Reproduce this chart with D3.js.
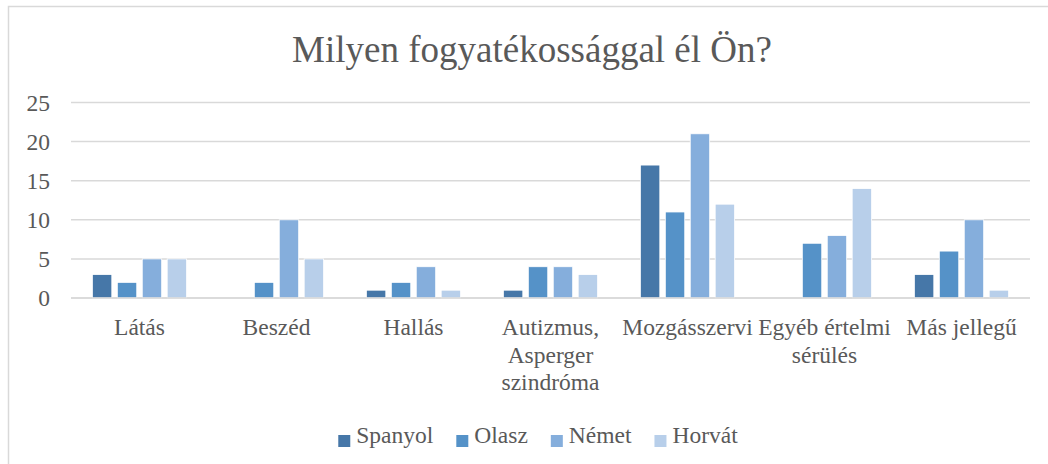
<!DOCTYPE html>
<html>
<head>
<meta charset="utf-8">
<script src="https://cdn.jsdelivr.net/npm/d3@7"></script>
<style>
  html, body { margin: 0; padding: 0; background: #fff; }
  svg { display: block; font-family: "Liberation Serif", "Times New Roman", serif; }
  svg text { font-family: "Liberation Serif", "Times New Roman", serif; }
</style>
</head>
<body>
<svg id="chart" width="1048" height="464"></svg>
<script>
const title = "Milyen fogyatékossággal él Ön?";
const categories = ["Látás", "Beszéd", "Hallás", "Autizmus, Asperger szindróma", "Mozgásszervi", "Egyéb értelmi sérülés", "Más jellegű"];
const categoryLines = [["Látás"], ["Beszéd"], ["Hallás"], ["Autizmus,", "Asperger", "szindróma"], ["Mozgásszervi"], ["Egyéb értelmi", "sérülés"], ["Más jellegű"]];
const seriesNames = ["Spanyol", "Olasz", "Német", "Horvát"];
const spanyol = [3, 0, 1, 1, 17, 0, 3];
const olasz = [2, 2, 2, 4, 11, 7, 6];
const nemet = [5, 10, 4, 4, 21, 8, 10];
const horvat = [5, 5, 1, 3, 12, 14, 1];
const yTicks = [0, 5, 10, 15, 20, 25];
const colors = ["#4677a8", "#5592c8", "#85aedc", "#b8cfea"];

const seriesValues = [spanyol, olasz, nemet, horvat];
const textColor = "#595959";
const fontSize = 23.5;
const serif = "Liberation Serif, Times New Roman, serif";

const svg = d3.select("#chart");

// outer border
svg.append("rect")
  .attr("x", 8.5).attr("y", 6.5)
  .attr("width", 1060).attr("height", 480)
  .attr("fill", "#fff")
  .attr("stroke", "#d9d9d9").attr("stroke-width", 1.5);

// title
svg.append("text")
  .attr("x", 532).attr("y", 62)
  .attr("text-anchor", "middle")
  .attr("font-family", serif)
  .attr("font-size", 37)
  .attr("fill", textColor)
  .text(title);

const plotLeft = 71, plotRight = 1030, plotTop = 102.5, plotBottom = 298;

const y = d3.scaleLinear().domain([0, 25]).range([plotBottom, plotTop]);
const x0 = d3.scaleBand().domain(categories).range([plotLeft, plotRight]).paddingInner(0.312).paddingOuter(0.156);
const x1 = d3.scaleBand().domain(seriesNames).range([0, x0.bandwidth()]).paddingInner(0.22).paddingOuter(0);

// gridlines
svg.append("g").selectAll("line")
  .data(yTicks)
  .join("line")
  .attr("x1", plotLeft).attr("x2", plotRight)
  .attr("y1", d => y(d)).attr("y2", d => y(d))
  .attr("stroke", "#d9d9d9").attr("stroke-width", 1.5);

// y axis labels
const yAxis = d3.axisLeft(y).tickValues(yTicks).tickSize(0).tickPadding(21);
const gy = svg.append("g").attr("transform", `translate(${plotLeft},0)`).call(yAxis)
  .attr("font-family", serif).attr("font-size", fontSize);
gy.select(".domain").remove();
gy.selectAll("text")
  .attr("font-family", serif)
  .attr("font-size", fontSize)
  .attr("fill", textColor);

// bars
const groups = svg.append("g").selectAll("g")
  .data(categories)
  .join("g")
  .attr("transform", d => `translate(${x0(d)},0)`);

groups.selectAll("rect")
  .data((c, i) => seriesNames.map((s, j) => ({ s, j, v: seriesValues[j][i] })).filter(d => d.v > 0))
  .join("rect")
  .attr("x", d => x1(d.s))
  .attr("y", d => y(d.v))
  .attr("width", x1.bandwidth())
  .attr("height", d => y(0) - y(d.v))
  .attr("fill", d => colors[d.j])
  .attr("stroke", "#ffffff").attr("stroke-width", 0.8);

// baseline
svg.append("line")
  .attr("x1", plotLeft).attr("x2", plotRight)
  .attr("y1", y(0)).attr("y2", y(0))
  .attr("stroke", "#d9d9d9").attr("stroke-width", 1.5);

// category labels
const catG = svg.append("g");
categories.forEach((c, i) => {
  const cxp = x0(c) + x0.bandwidth() / 2;
  const t = catG.append("text")
    .attr("x", cxp)
    .attr("y", 335)
    .attr("text-anchor", "middle")
    .attr("font-family", serif)
    .attr("font-size", fontSize)
    .attr("fill", textColor);
  categoryLines[i].forEach((line, k) => {
    t.append("tspan")
      .attr("x", cxp)
      .attr("dy", k === 0 ? 0 : 27.5)
      .text(line);
  });
});

// legend
const legend = svg.append("g");
let lx = 0;
seriesNames.forEach((s, j) => {
  const g = legend.append("g");
  g.append("rect").attr("x", 0).attr("y", -8).attr("width", 12).attr("height", 12).attr("fill", colors[j]);
  const t = g.append("text").attr("x", 18).attr("y", 0)
    .attr("font-family", serif).attr("font-size", fontSize).attr("fill", textColor).text(s);
  const w = 18 + t.node().getComputedTextLength();
  g.attr("transform", `translate(${lx},0)`);
  lx += w + 23;
});
const totalW = lx - 23;
legend.attr("transform", `translate(${538 - totalW / 2},443)`);
</script>
</body>
</html>
